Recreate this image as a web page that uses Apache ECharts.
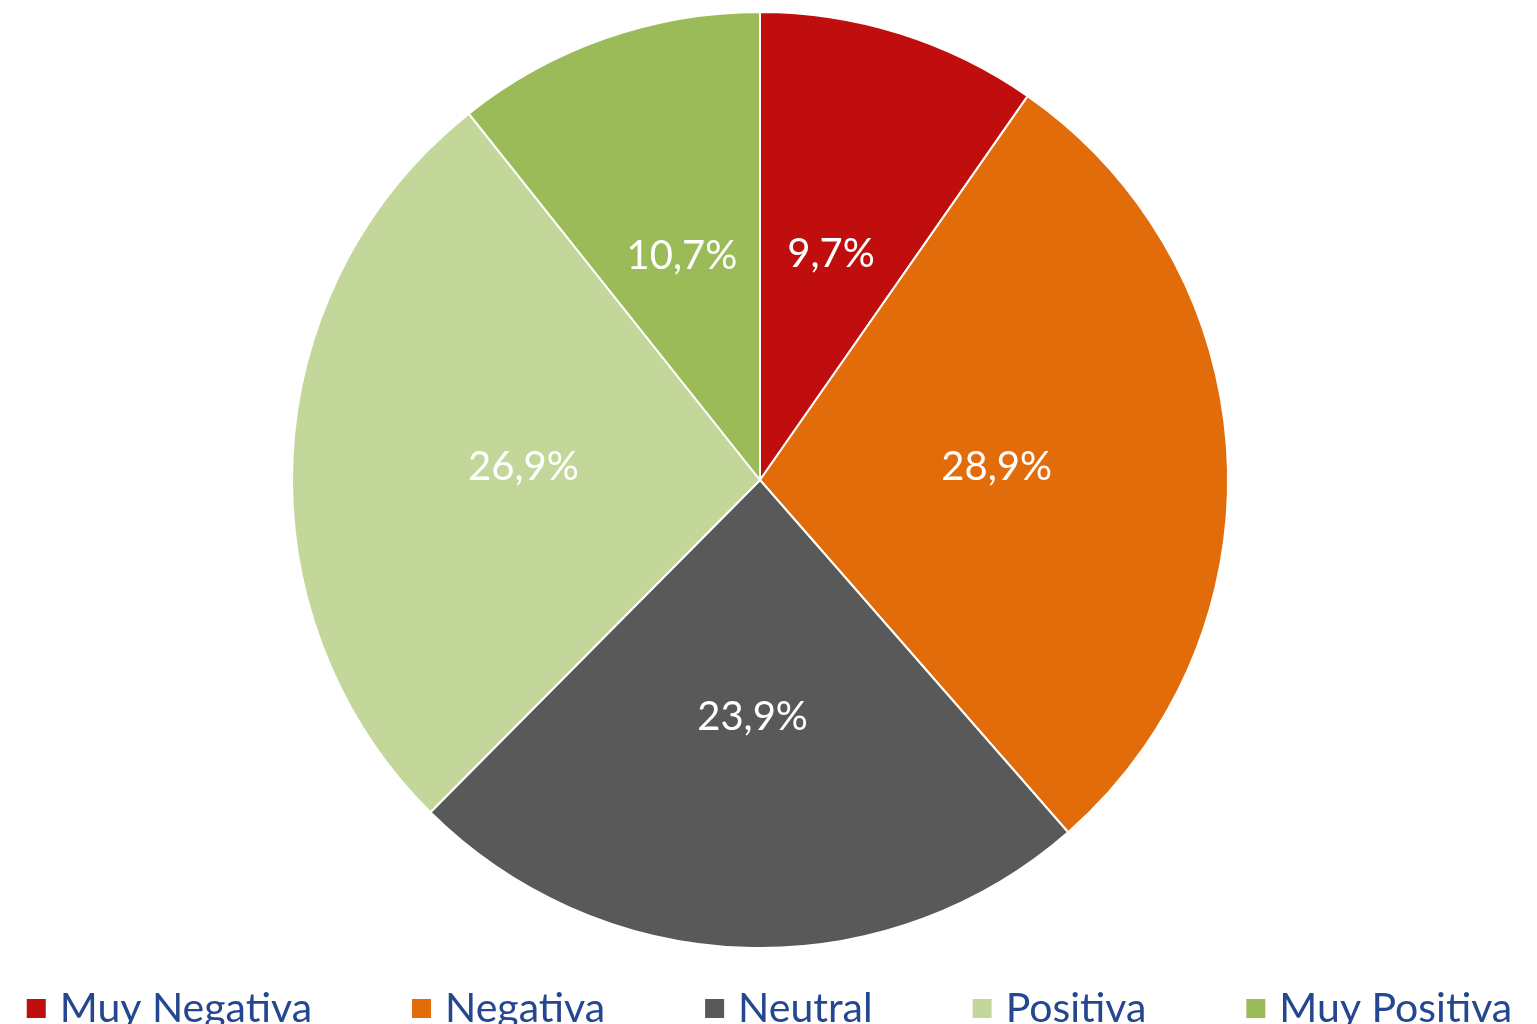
<!DOCTYPE html>
<html>
<head>
<meta charset="utf-8">
<script src="https://cdn.jsdelivr.net/npm/echarts@6/dist/echarts.min.js"></script>
<style>
  html, body { margin: 0; padding: 0; background: #fff; }
  #chart { width: 1537px; height: 1024px; }
</style>
</head>
<body>
<div id="chart"></div>
<script>
  // categories and shares
  const categories = ['Muy Negativa', 'Negativa', 'Neutral', 'Positiva', 'Muy Positiva'];
  const shares = [9.7, 28.9, 23.9, 26.9, 10.7];
  const colors = ['#C00D0D', '#E36C0A', '#595959', '#C4D79B', '#9BBB59'];

  let chart = echarts.init(document.getElementById('chart'));
  let option = {
    animation: false,
    color: colors,
    legend: {
      top: 983,
      left: 'center',
      itemWidth: 21,
      itemHeight: 21,
      itemGap: 98,
      icon: 'rect',
      textStyle: {
        fontFamily: 'Lato',
        fontSize: 41,
        color: '#24478F',
        padding: [0, 0, 0, 8]
      },
      data: categories
    },
    series: [
      {
        type: 'pie',
        center: [760, 480],
        radius: [0, 468],
        startAngle: 90,
        clockwise: true,
        itemStyle: {
          borderColor: '#fff',
          borderWidth: 2
        },
        label: {
          show: true,
          position: 'inner',
          color: '#fff',
          fontFamily: 'Lato',
          fontSize: 40,
          formatter: function (p) {
            return p.value.toFixed(1).replace('.', ',') + '%';
          }
        },
        labelLine: { show: false },
        data: categories.map((name, i) => ({ name: name, value: shares[i] }))
      }
    ]
  };
  chart.setOption(option);
</script>
</body>
</html>
